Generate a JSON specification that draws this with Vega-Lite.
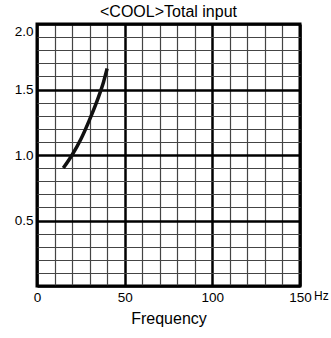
{
  "$schema": "https://vega.github.io/schema/vega-lite/v6.json",
  "width": 263,
  "height": 262,
  "autosize": {"type": "none"},
  "padding": {"left": 37, "top": 24, "right": 31, "bottom": 52},
  "background": "white",
  "title": {"text": "<COOL>Total input", "fontSize": 16, "fontWeight": "normal", "font": "Liberation Sans", "color": "black", "offset": 4, "anchor": "middle"},
  "config": {
    "view": {"stroke": "black", "strokeWidth": 3},
    "axis": {"labelFont": "Liberation Sans", "titleFont": "Liberation Sans", "labelColor": "black", "titleColor": "black", "ticks": false, "domain": false}
  },
  "encoding": {
    "x": {"field": "freq", "type": "quantitative", "scale": {"domain": [0, 150], "nice": false},
      "axis": {"values": [0,10,20,30,40,50,60,70,80,90,100,110,120,130,140,150], "grid": true,
        "gridColor": {"condition": {"test": "datum.value % 50 == 0", "value": "black"}, "value": "#444"},
        "gridWidth": {"condition": {"test": "datum.value % 50 == 0", "value": 2.5}, "value": 1.2},
        "gridOpacity": 1,
        "labelExpr": "datum.value % 50 == 0 ? datum.label : ''",
        "labelFlush": false,
        "labelFontSize": 13.5, "labelPadding": 4, "title": "Frequency", "titleFontSize": 16, "titleFontWeight": "normal", "titlePadding": 7}},
    "y": {"field": "input", "type": "quantitative", "scale": {"domain": [0, 2], "nice": false},
      "axis": {"values": [0,0.1,0.2,0.3,0.4,0.5,0.6,0.7,0.8,0.9,1.0,1.1,1.2,1.3,1.4,1.5,1.6,1.7,1.8,1.9,2.0], "grid": true,
        "gridColor": {"condition": {"test": "round(datum.value*10) % 5 == 0", "value": "black"}, "value": "#444"},
        "gridWidth": {"condition": {"test": "round(datum.value*10) % 5 == 0", "value": 2.5}, "value": 1.2},
        "gridOpacity": 1,
        "labelExpr": "round(datum.value*10) % 5 == 0 && datum.value > 0 ? format(datum.value, '.1f') : ''",
        "labelFontSize": 13.5, "labelPadding": 4, "labelFlush": true, "title": null}}
  },
  "layer": [
    {
      "data": {"values": [
        {"freq": 15, "input": 0.9},
        {"freq": 20, "input": 1.0},
        {"freq": 25, "input": 1.12},
        {"freq": 30, "input": 1.27},
        {"freq": 35, "input": 1.44},
        {"freq": 38, "input": 1.56},
        {"freq": 40, "input": 1.66}
      ]},
      "mark": {"type": "line", "color": "#111", "strokeWidth": 3.5, "interpolate": "monotone", "strokeCap": "butt"}
    },
    {
      "data": {"values": [{"freq": 150, "input": 0, "unit": "Hz"}]},
      "mark": {"type": "text", "font": "Liberation Sans", "fontSize": 12, "align": "left", "baseline": "top", "dx": 14, "dy": 5, "color": "black", "clip": false},
      "encoding": {
        "text": {"field": "unit"}
      }
    }
  ]
}
